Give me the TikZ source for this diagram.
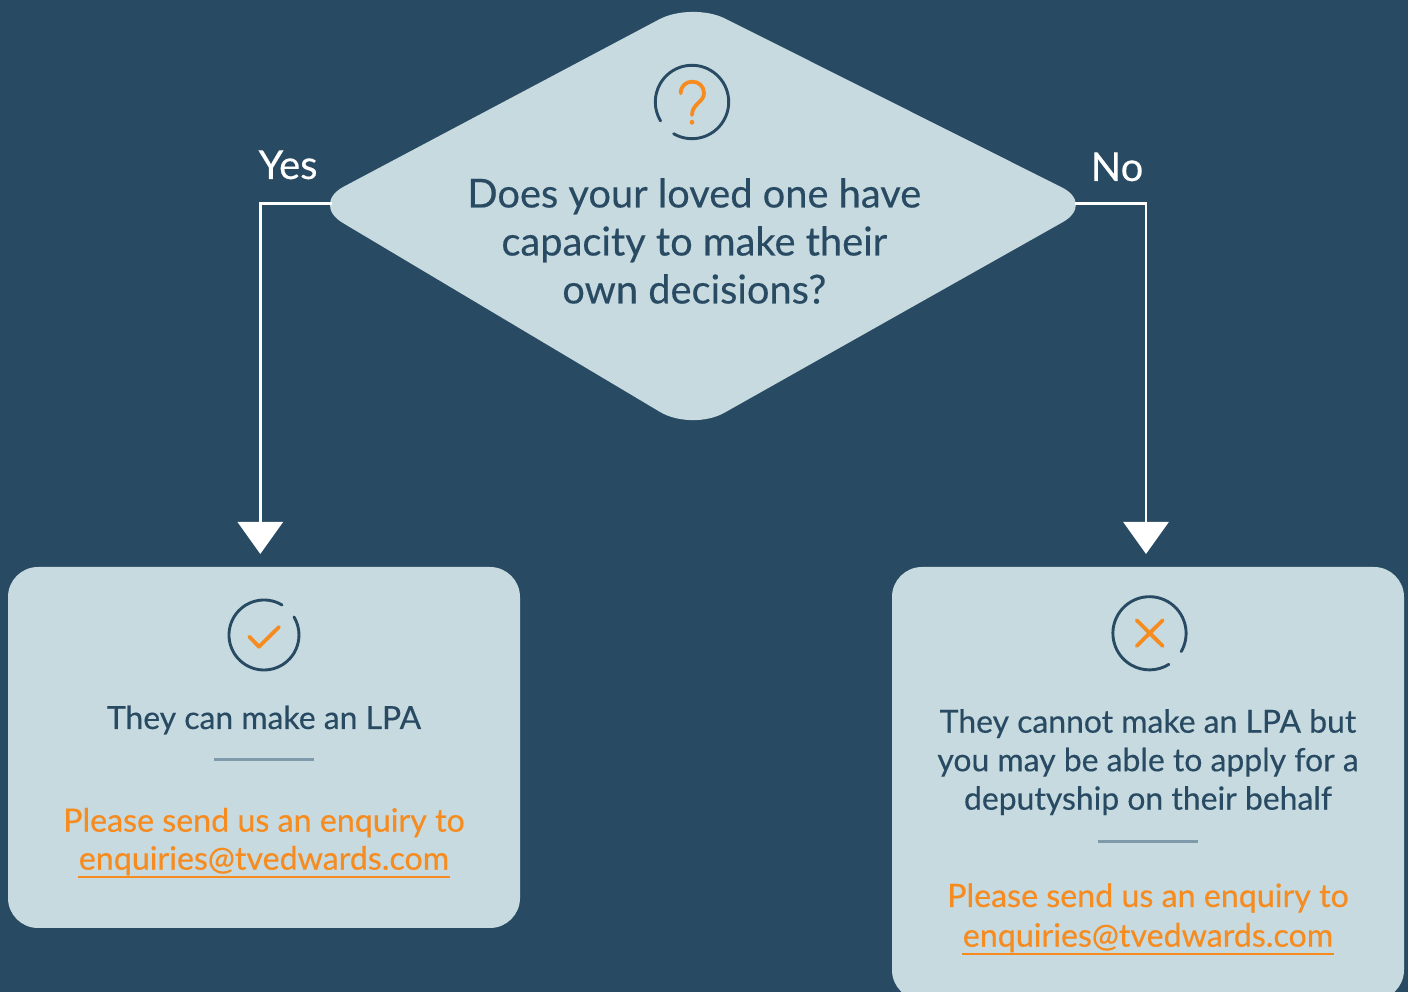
\documentclass[tikz,border=0pt]{standalone}
\usepackage{fontspec}
\setmainfont{Lato}[RawFeature={embolden=0.35}]
\usepackage{tikz}
\usetikzlibrary{arrows,arrows.meta}
\definecolor{navy}{RGB}{40,74,98}
\definecolor{pale}{RGB}{199,218,224}
\definecolor{amber}{RGB}{246,139,31}
\definecolor{rule}{RGB}{127,155,171}
\tikzset{
  flowline/.style={draw=white,line width=2.7pt,-{Triangle[length=32pt,width=45pt]}},
  answerbox/.style={fill=pale,rounded corners=30pt,minimum width=512pt,inner sep=0pt},
  bigtext/.style={text=navy,align=center,inner sep=0pt,font=\fontsize{39.8}{48}\selectfont},
  flowtext/.style={text=white,inner sep=0pt,anchor=base,font=\fontsize{40}{48}\selectfont},
  boxtext/.style={text=navy,align=center,inner sep=0pt,font=\fontsize{31.9}{38.5}\selectfont},
  linktext/.style={text=amber,align=center,inner sep=0pt,anchor=base,font=\fontsize{32.2}{38.5}\selectfont},
  iconring/.style={draw=navy,line width=2.9pt,line cap=round},
  iconmark/.style={draw=amber,line width=3.8pt,line cap=round,line join=round},
  divider/.style={draw=rule,line width=3pt},
  linkline/.style={draw=amber,line width=1.3pt},
}
\begin{document}
\begin{tikzpicture}[x=1pt,y=1pt]
  \useasboundingbox[fill=navy] (0,0) rectangle (1408,992);
  % question
  \fill[pale,rounded corners=37pt] (311,788) -- (692,990) -- (1095,788) -- (692,561) -- cycle;
  \coordinate (qleft) at (332,788.7);
  \coordinate (qright) at (1075,788.7);
  \node[bigtext] (question) at (694.3,751) {Does your loved one have\\capacity to make their\\own decisions?};
  \draw[iconring] (692,890) ++(240:36.7) arc (240:571:36.7);
  \draw[iconmark] (680.7,898.7) .. controls (680.7,906) and (686,910.3) .. (692.3,910.3)
    .. controls (699,910.3) and (704,905.5) .. (704,898.7)
    .. controls (704,890) and (692,888) .. (692,877);
  \fill[amber] (692,869.7) circle (2.4pt);
  % answers
  \node[answerbox,minimum height=361pt] (yesbox) at (264,244.5) {};
  \node[answerbox,minimum height=433pt] (nobox) at (1148,208.5) {};
  \coordinate (yestip) at (260.3,438);
  \coordinate (notip) at (1146,438);
  \draw[flowline] (qleft) -| (yestip);
  \draw[flowline] (qright) -| (notip);
  \node[flowtext] (yeslabel) at (288,813) {Yes};
  \node[flowtext] (nolabel) at (1117,811) {No};
  % yes box
  \draw[iconring] (264,357) ++(59:35) arc (59:391:35);
  \draw[iconmark] (249.3,355.3) -- (259,345.3) -- (279,365);
  \node[boxtext,anchor=base] (yestext) at (264,263) {They can make an LPA};
  \draw[divider] (214,232) -- (314,232);
  \node[linktext] (yesask) at (264,160.3) {Please send us an enquiry to};
  \node[linktext] (yesmail) at (264,122.3) {enquiries@tvedwards.com};
  \draw[linkline] (78,115) -- (449.5,115);
  % no box
  \draw[iconring] (1149.5,358.7) ++(-30:36.6) arc (-30:302:36.6);
  \draw[iconmark] (1136.7,371.7) -- (1162.7,346) (1162.7,371.7) -- (1136.7,346);
  \node[boxtext] (notext) at (1148,229.8) {They cannot make an LPA but\\you may be able to apply for a\\deputyship on their behalf};
  \draw[divider] (1098,150) -- (1198,150);
  \node[linktext] (noask) at (1148,85) {Please send us an enquiry to};
  \node[linktext] (nomail) at (1148,45.3) {enquiries@tvedwards.com};
  \draw[linkline] (962,38) -- (1333.5,38);
\end{tikzpicture}
\end{document}
